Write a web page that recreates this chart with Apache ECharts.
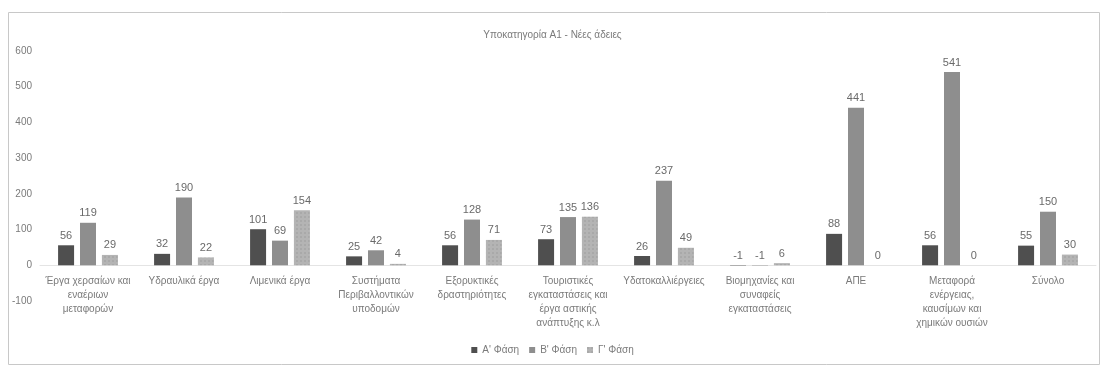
<!DOCTYPE html>
<html><head><meta charset="utf-8">
<script src="https://cdn.jsdelivr.net/npm/echarts@6/dist/echarts.min.js"></script>
<style>html,body{margin:0;padding:0;background:#fff}#c{width:1105px;height:369px}</style>
</head><body><div id="c"></div>
<script>
const categories = [
  "Έργα χερσαίων και\nεναέριων\nμεταφορών",
  "Υδραυλικά έργα",
  "Λιμενικά έργα",
  "Συστήματα\nΠεριβαλλοντικών\nυποδομών",
  "Εξορυκτικές\nδραστηριότητες",
  "Τουριστικές\nεγκαταστάσεις και\nέργα αστικής\nανάπτυξης κ.λ",
  "Υδατοκαλλιέργειες",
  "Βιομηχανίες και\nσυναφείς\nεγκαταστάσεις",
  "ΑΠΕ",
  "Μεταφορά\nενέργειας,\nκαυσίμων και\nχημικών ουσιών",
  "Σύνολο"
];
const phaseA = [56, 32, 101, 25, 56, 73, 26, -1, 88, 56, 55];
const phaseB = [119, 190, 69, 42, 128, 135, 237, -1, 441, 541, 150];
const phaseC = [29, 22, 154, 4, 71, 136, 49, 6, 0, 0, 30];
const seriesNames = ["Α' Φάση", "Β' Φάση", "Γ' Φάση"];
const yTicks = [-100, 0, 100, 200, 300, 400, 500, 600];

const txt = '#7a7a7a';
const font = '"Liberation Sans", Arial, sans-serif';
const chart = echarts.init(document.getElementById('c'));
const lbl = {show: true, position: 'top', color: '#6a6a6a', fontSize: 11, fontFamily: font, distance: 4};
chart.setOption({
  animation: false,
  textStyle: {fontFamily: font},
  graphic: [{type: 'rect', shape: {x: 8.5, y: 12.5, width: 1091, height: 352},
    style: {fill: 'none', stroke: '#c8c8c8', lineWidth: 1}}],
  title: {text: 'Υποκατηγορία Α1 - Νέες άδειες', left: 'center', top: 25,
    textStyle: {fontSize: 10, fontWeight: 'normal', color: txt, fontFamily: font}},
  legend: {bottom: 9, left: 'center', icon: 'rect', itemWidth: 6, itemHeight: 6, itemGap: 10,
    textStyle: {fontSize: 10, color: txt, fontFamily: font},
    data: seriesNames},
  grid: {left: 40, right: 9, top: 51, bottom: 68, containLabel: false},
  xAxis: {type: 'category', data: categories,
    axisLine: {onZero: true, lineStyle: {color: '#e4e4e4'}},
    axisTick: {show: false},
    axisLabel: {interval: 0, color: txt, fontSize: 10, lineHeight: 14, margin: -27, fontFamily: font}},
  yAxis: {type: 'value', min: yTicks[0], max: yTicks[yTicks.length - 1], interval: 100,
    splitLine: {show: false}, axisLine: {show: false}, axisTick: {show: false},
    axisLabel: {color: txt, fontSize: 10, margin: 8, fontFamily: font}},
  series: [
    {name: seriesNames[0], type: 'bar', data: phaseA, barWidth: 16, barGap: '37%',
      itemStyle: {color: '#4f4f4f'}, label: lbl},
    {name: seriesNames[1], type: 'bar', data: phaseB, barWidth: 16, barGap: '37%',
      itemStyle: {color: '#8e8e8e'}, label: lbl},
    {name: seriesNames[2], type: 'bar', data: phaseC, barWidth: 16, barGap: '37%',
      itemStyle: {color: '#b4b4b4', decal: {symbol: 'rect', symbolSize: 0.5, color: 'rgba(90,90,90,0.45)', dashArrayX: [2, 2], dashArrayY: [2, 2], rotation: 0}},
      label: lbl}
  ]
});
</script></body></html>
